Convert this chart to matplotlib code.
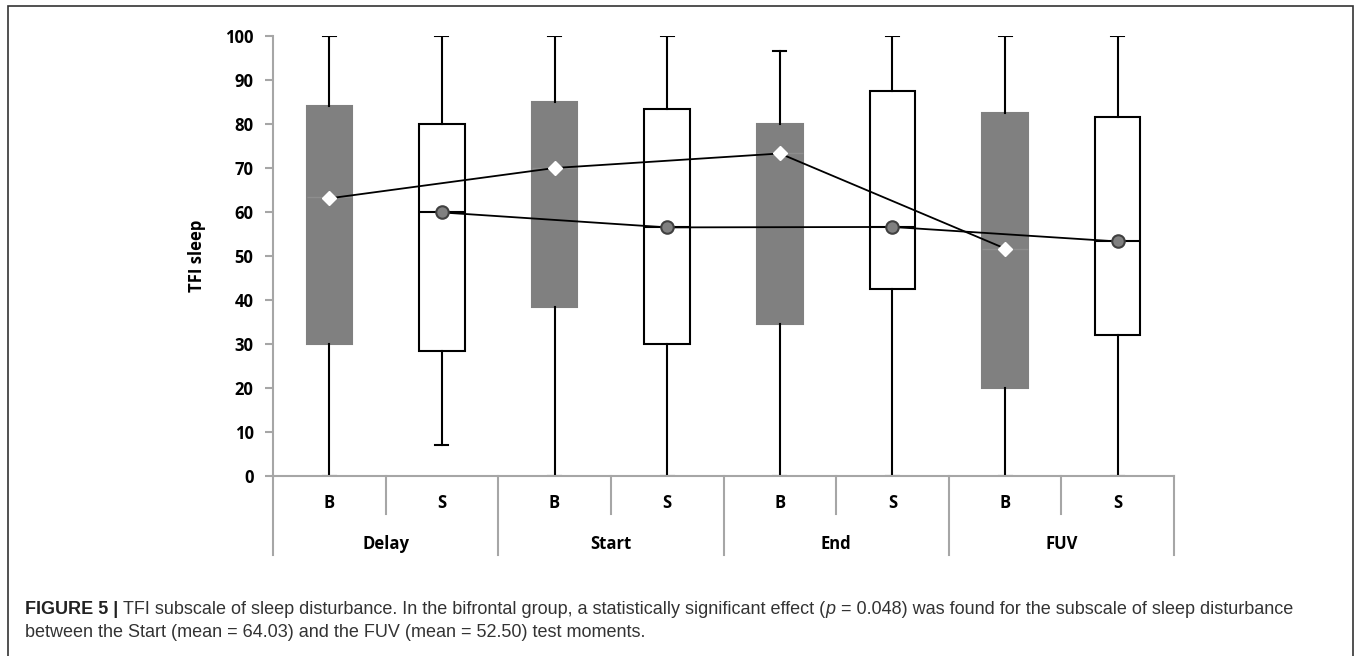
import matplotlib
matplotlib.use("Agg")
import matplotlib.pyplot as plt
from matplotlib.patches import Rectangle
from matplotlib.transforms import blended_transform_factory

# box plot values
groups = ["Delay", "Start", "End", "FUV"]
conditions = ["B", "S"]
whisker_low = [0, 7, 0, 0, 0, 0, 0, 0]
q1 = [30, 28.5, 38.5, 30, 34.5, 42.5, 20, 32]
medians = [63.3, 60, 70, 56.5, 73.3, 56.7, 51.7, 53.3]
q3 = [84, 80, 85, 83.5, 80, 87.5, 82.5, 81.7]
whisker_high = [100, 100, 100, 100, 96.7, 100, 100, 100]
means_b = [63.1, 70, 73.3, 51.7]
means_s = [59.9, 56.5, 56.6, 53.3]
y_ticks = list(range(0, 101, 10))

caption_bold = "FIGURE 5 | "
caption_parts_1 = [("TFI subscale of sleep disturbance. In the bifrontal group, a statistically significant effect (", "normal"),
                   ("p", "italic"),
                   (" = 0.048) was found for the subscale of sleep disturbance", "normal")]
caption_line_2 = "between the Start (mean = 64.03) and the FUV (mean = 52.50) test moments."

W, H = 1356, 656
fig = plt.figure(figsize=(W / 100, H / 100), dpi=100)
ax = fig.add_axes([273 / W, 1 - 476 / H, 901 / W, 440 / H])

label_font = "Open Sans"
label_size = 12
axis_grey = "#a6a6a6"

stats = []
for i in range(len(medians)):
    stats.append({"whislo": whisker_low[i], "q1": q1[i], "med": medians[i],
                  "q3": q3[i], "whishi": whisker_high[i]})
positions = list(range(len(medians)))
bp = ax.bxp(stats, positions=positions, widths=0.405, patch_artist=True,
            showfliers=False, capwidths=0.115,
            whiskerprops=dict(color="black", lw=1.5),
            capprops=dict(color="black", lw=1.5),
            medianprops=dict(color="black", lw=1.5),
            boxprops=dict(lw=1.5))
for i, box in enumerate(bp["boxes"]):
    if i % 2 == 0:
        box.set_facecolor("#808080")
        box.set_edgecolor("#808080")
        bp["medians"][i].set_color("#8e8e8e")
        bp["medians"][i].set_linewidth(1.0)
    else:
        box.set_facecolor("white")
        box.set_edgecolor("black")

# mean lines
ax.plot(positions[0::2], means_b, color="black", lw=1.3, marker="D", ms=7,
        mfc="white", mec="white", zorder=5)
ax.plot(positions[1::2], means_s, color="black", lw=1.3, marker="o", ms=9,
        mfc="#808080", mec="#404040", mew=1.5, zorder=5)

ax.set_xlim(-0.5, len(medians) - 0.5)
ax.set_ylim(0, 100)
ax.set_yticks(y_ticks)
ax.set_yticklabels([str(t) for t in y_ticks], fontfamily=label_font,
                   fontweight="bold", fontsize=label_size)
ax.tick_params(axis="y", length=6, width=1.5, color=axis_grey, pad=8)
ax.set_xticks([])
for s in ["top", "right"]:
    ax.spines[s].set_visible(False)
ax.spines["left"].set_color(axis_grey)
ax.spines["left"].set_linewidth(1.5)
ax.spines["bottom"].set_color(axis_grey)
ax.spines["bottom"].set_linewidth(1.5)
ax.set_ylabel("TFI sleep", fontfamily=label_font, fontweight="bold",
              fontsize=label_size)
ax.yaxis.set_label_coords(-0.074, 0.5)

# hierarchical category axis
trans = blended_transform_factory(ax.transData, ax.transAxes)
for i in range(len(medians) + 1):
    x = i - 0.5
    bottom = -0.18 if i % 2 == 0 else -0.087
    ax.plot([x, x], [0, bottom], transform=trans, color=axis_grey, lw=1.5,
            clip_on=False)
for i in range(len(medians)):
    ax.text(i, -0.062, conditions[i % 2], transform=trans, ha="center",
            va="center", fontfamily=label_font, fontweight="bold",
            fontsize=label_size)
for g, name in enumerate(groups):
    ax.text(2 * g + 0.5, -0.155, name, transform=trans, ha="center",
            va="center", fontfamily=label_font, fontweight="bold",
            fontsize=label_size)

# frame around figure + caption
fig.patches.append(Rectangle((8 / W, -0.1), (1353 - 8) / W, 1 - 6 / H + 0.1,
                             transform=fig.transFigure, fill=False,
                             edgecolor="#333333", lw=1.2))

cap_font = "Liberation Sans"
cap_size = 13
renderer = fig.canvas.get_renderer()
x = 25 / W
y1 = 1 - 614 / H
t = fig.text(x, y1, caption_bold, fontfamily=cap_font, fontweight="bold",
             fontsize=cap_size, va="baseline", color="#222222")
x += t.get_window_extent(renderer).width / W
for text, style in caption_parts_1:
    t = fig.text(x, y1, text, fontfamily=cap_font, fontstyle=style,
                 fontsize=cap_size, va="baseline", color="#333333")
    x += t.get_window_extent(renderer).width / W
fig.text(25 / W, 1 - 637 / H, caption_line_2, fontfamily=cap_font,
         fontsize=cap_size, va="baseline", color="#333333")

fig.savefig("out.png", dpi=100)
